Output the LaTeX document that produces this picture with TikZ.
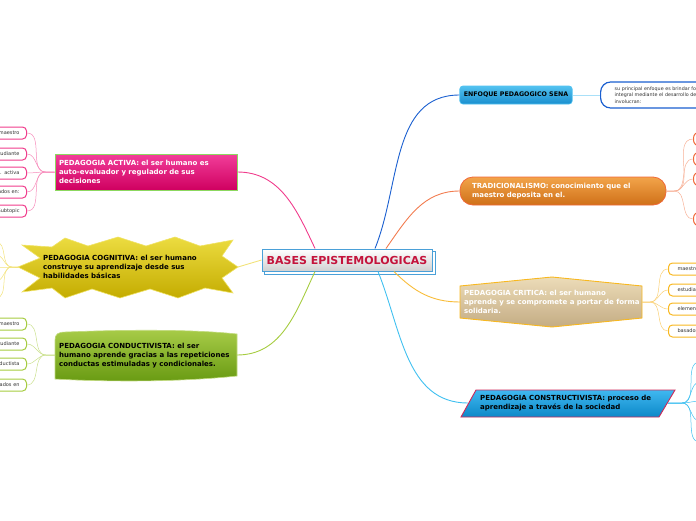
\documentclass[tikz,border=0pt]{standalone}
\usepackage{fontspec}
\setmainfont{DejaVu Sans}
\usetikzlibrary{calc,backgrounds}
\definecolor{rootblue}{HTML}{4AA0D8}
\definecolor{rootred}{HTML}{C4143C}
\definecolor{activatop}{HTML}{F23E9A}
\definecolor{activabot}{HTML}{CF0060}
\definecolor{activaline}{HTML}{F03C8C}
\definecolor{activaedge}{HTML}{8CD860}
\definecolor{cogtop}{HTML}{ECDC40}
\definecolor{cogbot}{HTML}{C4AC00}
\definecolor{cogline}{HTML}{F2E27A}
\definecolor{condtop}{HTML}{A8CC48}
\definecolor{condbot}{HTML}{689A12}
\definecolor{condline}{HTML}{A6CC40}
\definecolor{senatop}{HTML}{52C2F0}
\definecolor{senabot}{HTML}{1A8ECE}
\definecolor{senaline}{HTML}{1A5FD0}
\definecolor{tradtop}{HTML}{F2A44A}
\definecolor{tradbot}{HTML}{CF7018}
\definecolor{tradedge}{HTML}{F06838}
\definecolor{tradline}{HTML}{F27C50}
\definecolor{crittop}{HTML}{ECDCB8}
\definecolor{critbot}{HTML}{C4AC84}
\definecolor{critedge}{HTML}{F8B820}
\definecolor{critline}{HTML}{F8BC38}
\definecolor{constop}{HTML}{40B8F0}
\definecolor{consbot}{HTML}{0C88C8}
\definecolor{consedge}{HTML}{D02858}
\definecolor{consline}{HTML}{40C0F0}
\definecolor{subtext}{HTML}{333333}

\begin{document}
\begin{tikzpicture}[x=1pt,y=-1pt,
  mainfont/.style={font=\fontsize{7}{9}\selectfont\bfseries},
  rootbox/.style={draw=rootblue,line width=1pt,top color=white,bottom color=black!18,minimum width=170,minimum height=22,inner sep=0pt,text=rootred,font=\fontsize{11}{12}\selectfont\bfseries},
  rootshade/.style={draw=rootblue,line width=1pt,fill=white},
  topicbox/.style={mainfont,minimum height=18,inner xsep=4pt,inner ysep=0pt,align=left},
  topictext/.style={mainfont,inner sep=0pt,align=left,anchor=west},
  subleft/.style={draw,line width=1pt,rounded corners=4pt,fill=white,minimum height=12,text width=52,align=right,inner xsep=7pt,inner ysep=0pt,anchor=east,text=subtext,font=\fontsize{5}{6}\selectfont},
  subright/.style={draw,line width=1pt,rounded corners=4pt,fill=white,minimum height=12,text width=52,align=left,inner xsep=9pt,inner ysep=0pt,anchor=west,text=subtext,font=\fontsize{5}{6}\selectfont},
  link/.style={line width=0.9pt},
  sublink/.style={line width=0.5pt}
]
\path[use as bounding box] (0,0) rectangle (696,520);

% Central topic
\node[rootbox] (root) at (347,260) {BASES EPISTEMOLOGICAS};
\begin{scope}[on background layer]
\draw[rootshade] ([shift={(3pt,-3pt)}]root.south west) rectangle ([shift={(3pt,-3pt)}]root.north east);
\end{scope}

% Left main topics
\node[topicbox,draw=activaedge,line width=1pt,top color=activatop,bottom color=activabot,text=white,minimum width=182,minimum height=36,text width=174] (activa) at (146,172) {PEDAGOGIA ACTIVA: el ser humano es\\auto-evaluador y regulador de sus\\decisiones};

\path[draw=cogtop!80!white,line width=0.6pt,top color=cogtop,bottom color=cogbot]
  (18,267) -- (40,258) -- (22,245) -- (52,247) -- (65,238) -- (88,246) -- (118,237) -- (146,246)
  -- (175,237) -- (200,246) -- (233,240) -- (222,256) -- (238,267) -- (222,278) -- (233,293)
  -- (205,288) -- (178,298) -- (150,289) -- (120,298) -- (92,289) -- (65,298) -- (52,288)
  -- (22,292) -- (40,278) -- cycle;
\coordinate (cogn-w) at (18,267);
\coordinate (cogn-e) at (238,267);
\node[topictext] (cogn) at (43,267) {PEDAGOGIA COGNITIVA: el ser humano\\construye su aprendizaje desde sus\\habilidades básicas};

\path[draw=condtop!70!white,line width=0.6pt,top color=condtop,bottom color=condbot]
  (55,340) .. controls (55,334) and (58,332) .. (66,332) .. controls (140,329) and (200,330) .. (237,334)
  -- (237,376) .. controls (180,382) and (110,382) .. (55,379) -- cycle;
\coordinate (cond-w) at (55,355);
\coordinate (cond-e) at (237,355);
\node[topictext] (cond) at (59,356) {PEDAGOGIA CONDUCTIVISTA: el ser\\humano aprende gracias a las repeticiones\\conductas estimuladas y condicionales.};

% Right main topics
\node[topicbox,draw=senatop,line width=0.6pt,rounded corners=3pt,top color=senatop,bottom color=senabot,minimum width=112,font=\fontsize{6.3}{8}\selectfont\bfseries] (sena) at (516,95) {ENFOQUE PEDAGOGICO SENA};

\node[topicbox,draw=tradedge,line width=0.8pt,rounded corners=13pt,top color=tradtop,bottom color=tradbot,text=white,minimum width=206,minimum height=28,text width=182] (trad) at (563,191) {TRADICIONALISMO: conocimiento que el\\maestro deposita en el.};

\path[draw=critedge,line width=0.9pt,top color=crittop,bottom color=critbot]
  (460,286) -- (552,277) -- (642,286) -- (642,318) -- (552,327) -- (460,318) -- cycle;
\coordinate (crit-w) at (460,302);
\coordinate (crit-e) at (642,302);
\node[topictext,text=white] (crit) at (464,302) {PEDAGOGIA CRITICA: el ser humano\\aprende y se compromete a portar de forma\\solidaria.};

\path[draw=consedge,line width=0.9pt,top color=constop,bottom color=consbot]
  (461,417) -- (476,390) -- (675,390) -- (659,417) -- cycle;
\coordinate (cons-w) at (468,403);
\coordinate (cons-e) at (668,403);
\node[topictext] (cons) at (480,403) {PEDAGOGIA CONSTRUCTIVISTA: proceso de\\aprendizaje a través de la sociedad};

% Connectors from the central topic
\draw[link,activaline] ([xshift=-32pt]root.north) to[out=115,in=0] (activa.east);
\draw[link,cogline] (root.west) -- (cogn-e);
\draw[link,condline] ([xshift=-32pt]root.south) to[out=-115,in=0] (cond-e);
\draw[link,senaline] ([xshift=28pt]root.north) to[out=68,in=180] (sena.west);
\draw[link,tradline] ([xshift=39pt]root.north) to[out=55,in=180] (trad.west);
\draw[link,critline] ([xshift=47pt]root.south) to[out=-45,in=180] (crit-w);
\draw[link,consline] ([xshift=31pt]root.south) to[out=-68,in=180] (cons-w);

% Subtopics of PEDAGOGIA ACTIVA
\node[subleft,draw=activaline] (act1) at (27,133) {maestro};
\node[subleft,draw=activaline] (act2) at (27,154) {estudiante};
\node[subleft,draw=activaline] (act3) at (27,173) {Ped. activa};
\node[subleft,draw=activaline] (act4) at (27,192) {basados en:};
\node[subleft,draw=activaline] (act5) at (27,211) {Subtopic};
\foreach \s in {act1,act2,act3,act4,act5}
  \draw[sublink,activaline!60] (activa.west) -- ++(-9,0) to[out=180,in=0] (\s.east);

% Subtopics of PEDAGOGIA COGNITIVA (outside the page)
\foreach \i/\y in {1/242,2/255,3/267,4/281,5/298} {
  \coordinate (cog\i) at (-4,\y);
  \draw[sublink,cogline] (cogn-w) -- ++(-6,0) to[out=180,in=0] (cog\i);
}

% Subtopics of PEDAGOGIA CONDUCTIVISTA
\node[subleft,draw=condline] (cnd1) at (27,324) {maestro};
\node[subleft,draw=condline] (cnd2) at (27,344) {estudiante};
\node[subleft,draw=condline] (cnd3) at (27,364) {conductista};
\node[subleft,draw=condline] (cnd4) at (27,385) {basados en};
\foreach \s in {cnd1,cnd2,cnd3,cnd4}
  \draw[sublink,condline!60] (cond-w) -- ++(-9,0) to[out=180,in=0] (\s.east);

% Subtopic of ENFOQUE PEDAGOGICO SENA
\node[draw=senaline,line width=1.2pt,rounded corners=10pt,fill=white,anchor=west,minimum height=26,text width=150,inner xsep=14pt,inner ysep=0pt,align=left,text=subtext,font=\fontsize{4.8}{6.4}\selectfont] (senasub) at (600,95) {su principal enfoque es brindar formación\\integral mediante el desarrollo de competencias\\involucran:};
\draw[link,senatop!50] (sena.east) -- (senasub.west);

% Subtopics of TRADICIONALISMO
\foreach \i/\y in {1/139,2/159,3/179,4/219} {
  \node[draw=tradedge,line width=1pt,rounded corners=6pt,fill=white,anchor=west,minimum width=40,minimum height=14] (trd\i) at (693,\y) {};
  \draw[sublink,tradline!60] (trad.east) -- ++(8,0) to[out=0,in=180] (trd\i.west);
}

% Subtopics of PEDAGOGIA CRITICA
\node[subright,draw=critedge] (crt1) at (668,269) {maestro};
\node[subright,draw=critedge] (crt2) at (668,290) {estudiante};
\node[subright,draw=critedge] (crt3) at (668,309) {elementos};
\node[subright,draw=critedge] (crt4) at (668,331) {basados};
\foreach \s in {crt1,crt2,crt3,crt4}
  \draw[sublink,critline!70] (crit-e) -- ++(8,0) to[out=0,in=180] (\s.west);

% Subtopics of PEDAGOGIA CONSTRUCTIVISTA (outside the page)
\foreach \i/\y in {1/362,2/382,3/401,4/421,5/442} {
  \coordinate (cns\i) at (700,\y);
  \draw[sublink,consline] (cons-e) -- ++(14,0) to[out=0,in=180] (cns\i);
}

\end{tikzpicture}
\end{document}
